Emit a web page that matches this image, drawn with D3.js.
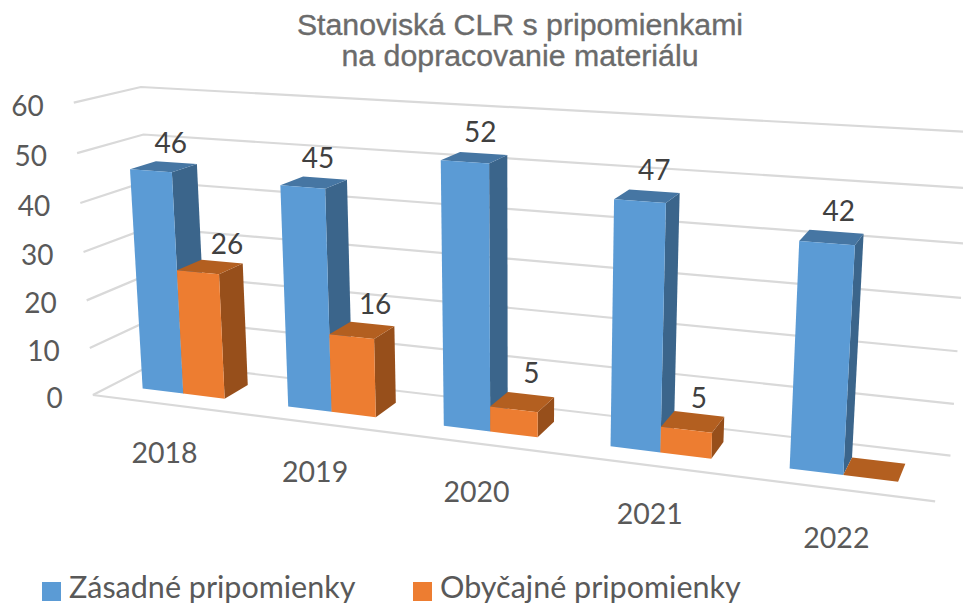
<!DOCTYPE html>
<html>
<head>
<meta charset="utf-8">
<script src="https://cdn.jsdelivr.net/npm/d3@7"></script>
<style>
html,body{margin:0;padding:0;background:#fff;overflow:hidden}
svg{display:block}
</style>
</head>
<body>
<svg id="chart" width="963" height="605"></svg>
<script>
// ---- data ----
const categories = ["2018", "2019", "2020", "2021", "2022"];
const seriesNames = ["Zásadné pripomienky", "Obyčajné pripomienky"];
const zasadne = [46, 45, 52, 47, 42];
const obycajne = [26, 16, 5, 5, 0];
const valueTicks = [0, 10, 20, 30, 40, 50, 60];
const titleLines = ["Stanoviská CLR s pripomienkami", "na dopracovanie materiálu"];

// ---- styles ----
const faceColors = [
  {front: "#5B9BD5", side: "#3B658B", top: "#4676A3"},
  {front: "#ED7D31", side: "#974F1B", top: "#B35F20"}
];

// ---- 3D scales (category, value, depth) -> unit cube ----
const W = 963, H = 605;
const band = d3.scaleBand().domain(categories).range([0, 5]).paddingInner(0.4286).paddingOuter(0.2143);
const inner = d3.scaleBand().domain(d3.range(2)).range([0, band.bandwidth()]);
const ux = d3.scaleLinear().domain([0, 5]).range([0, 1]);
const uy = d3.scaleLinear().domain([0, 60]).range([0, 1]);
const depth = {front: 0.3, back: 0.7};

// ---- camera calibration: [u, value, depth, screenX, screenY] ----
const eL = (i, k) => i + 0.2143 + k * 0.2857;
const calibration = [
  [0,0,0,93,395],[0,10,0,90,348],[0,20,0,87,301],[0,30,0,83,252],[0,40,0,79,203],[0,50,0,76,153],[0,60,0,72,103],
  [0,0,1,150,364],[0,50,1,145,134],[0,60,1,142,87],
  [5,0,1,950,456],[5,10,1,954,403],[5,20,1,958,351],[5,30,1,962,298],
  [5,0,0,936,502],
  [eL(0,0),0,.3,144,388],[eL(0,0),46,.3,130,169],[eL(0,1),46,.3,172,172],[eL(0,0),46,.7,157,162],[eL(0,1),46,.7,197,164],
  [eL(0,1),0,.3,184,393],[eL(0,2),0,.3,226,398],[eL(0,1),26,.3,178,270],[eL(0,2),26,.3,220,276],[eL(0,2),26,.7,244,263],[eL(0,1),26,.7,202,260],[eL(0,2),0,.7,249,384],
  [eL(2,0),52,.3,440,161],[eL(2,1),52,.3,488,163],[eL(2,1),52,.7,507,155],[eL(2,0),52,.7,460,152],
  [eL(2,0),0,.3,444,426],[eL(2,1),0,.3,490,431],[eL(2,2),0,.3,538,437],[eL(2,2),0,.7,554,421],
  [eL(2,1),5,.3,490,407],[eL(2,2),5,.3,538,412],[eL(2,2),5,.7,554,397],[eL(2,1),5,.7,508,392],
  [eL(3,1),47,.3,666,202],[eL(3,1),47,.7,679,193],
  [eL(3,0),0,.3,610,447],[eL(3,1),0,.3,660,452],[eL(3,2),0,.3,712,458],
  [eL(3,1),5,.3,661,427],[eL(3,2),5,.3,712,433],[eL(3,2),5,.7,723,417],[eL(3,1),5,.7,675,411],
  [eL(4,0),42,.3,799,241],[eL(4,1),42,.3,855,245],[eL(4,1),42,.7,863,234],[eL(4,0),42,.7,810,230],
  [eL(4,0),0,.3,789,469],[eL(4,1),0,.3,843,475],[eL(4,2),0,.3,898,482],[eL(4,2),0,.7,904,464],[eL(4,1),0,.7,853,458]
];

function solveCamera(points) {
  const n = 11, A = d3.range(n).map(() => new Array(n + 1).fill(0));
  const add = (row, b) => {
    for (let i = 0; i < n; i++) {
      for (let j = 0; j < n; j++) A[i][j] += row[i] * row[j];
      A[i][n] += row[i] * b;
    }
  };
  points.forEach(([u, v, w, sx, sy]) => {
    const X = ux(u), Y = uy(v), Z = w, x = sx / 1000, y = sy / 1000;
    add([X, Y, Z, 1, 0, 0, 0, 0, -x * X, -x * Y, -x * Z], x);
    add([0, 0, 0, 0, X, Y, Z, 1, -y * X, -y * Y, -y * Z], y);
  });
  for (let c = 0; c < n; c++) {
    let p = c;
    for (let r = c + 1; r < n; r++) if (Math.abs(A[r][c]) > Math.abs(A[p][c])) p = r;
    [A[c], A[p]] = [A[p], A[c]];
    for (let r = 0; r < n; r++) {
      if (r === c) continue;
      const f = A[r][c] / A[c][c];
      for (let k = c; k <= n; k++) A[r][k] -= f * A[c][k];
    }
  }
  return A.map((row, i) => row[n] / row[i]);
}
const cam = solveCamera(calibration);
function project(u, v, w) {
  const X = ux(u), Y = uy(v), Z = w;
  const d = cam[8] * X + cam[9] * Y + cam[10] * Z + 1;
  return [
    1000 * (cam[0] * X + cam[1] * Y + cam[2] * Z + cam[3]) / d,
    1000 * (cam[4] * X + cam[5] * Y + cam[6] * Z + cam[7]) / d
  ];
}

const svg = d3.select("#chart");
const line = d3.line();
const bodyFont = "Lato, Carlito, sans-serif";

// ---- gridlines ----
const grid = svg.append("g").attr("fill", "none").attr("stroke", "#D9D9D9").attr("stroke-width", 2.2);
grid.selectAll("path.grid").data(valueTicks).join("path").attr("class", "grid")
  .attr("d", v => line([project(0, v, 0), project(0, v, 1), project(5, v, 1)]));
grid.append("path").attr("d", line([project(0, 0, 0), project(5, 0, 0)]));

// ---- value axis labels ----
svg.append("g").selectAll("text").data(valueTicks).join("text")
  .attr("x", v => project(0, v, 0)[0] - 30)
  .attr("y", v => project(0, v, 0)[1] + 13)
  .attr("text-anchor", "end").attr("font-family", bodyFont).attr("font-size", 28).attr("fill", "#595959")
  .text(d => d);

// ---- category labels ----
svg.append("g").selectAll("text").data(categories).join("text")
  .attr("x", c => project(band(c) + band.bandwidth() / 2, 0, 0)[0])
  .attr("y", c => project(band(c) + band.bandwidth() / 2, 0, 0)[1] + 59)
  .attr("text-anchor", "middle").attr("font-family", bodyFont).attr("font-size", 28.5).attr("fill", "#595959")
  .text(d => d);

// ---- bars ----
const seriesValues = [zasadne, obycajne];
const bars = svg.append("g");
categories.forEach((c, i) => {
  seriesValues.forEach((vals, s) => {
    const a = band(c) + inner(s), b = a + inner.bandwidth(), v = vals[i];
    const w0 = depth.front, w1 = depth.back;
    const col = faceColors[s];
    const g = bars.append("g");
    g.append("path").attr("fill", col.side)
      .attr("d", line([project(b, 0, w0), project(b, v, w0), project(b, v, w1), project(b, 0, w1)]) + "Z");
    g.append("path").attr("fill", col.top)
      .attr("d", line([project(a, v, w0), project(b, v, w0), project(b, v, w1), project(a, v, w1)]) + "Z");
    g.append("path").attr("fill", col.front)
      .attr("d", line([project(a, 0, w0), project(b, 0, w0), project(b, v, w0), project(a, v, w0)]) + "Z");
  });
});

// ---- data labels ----
const labelNudgeX = [[0, -3, -1, 0, 0], [10, 6, 2, -1, 0]];
const labelNudgeY = [[1, 0, -1, -1, -1], [2, -1, -4, 1, 0]];
const labels = svg.append("g");
categories.forEach((c, i) => {
  seriesValues.forEach((vals, s) => {
    const v = vals[i];
    if (!v) return;
    const m = band(c) + inner(s) + inner.bandwidth() / 2;
    const p = project(m, v, 0.5);
    labels.append("text")
      .attr("x", p[0] + 7 + labelNudgeX[s][i])
      .attr("y", p[1] - 15 + labelNudgeY[s][i])
      .attr("text-anchor", "middle").attr("font-family", bodyFont).attr("font-size", 28).attr("fill", "#404040")
      .text(v);
  });
});

// ---- title ----
svg.append("g").selectAll("text").data(titleLines).join("text")
  .attr("x", 520).attr("y", (d, i) => 35 + i * 31)
  .attr("text-anchor", "middle").attr("font-family", "'Liberation Sans', Arial, sans-serif")
  .attr("font-size", 30.3).attr("fill", "#6B6B6B").attr("stroke", "#6B6B6B").attr("stroke-width", 0.35)
  .text(d => d);

// ---- legend ----
const legendX = d3.scaleOrdinal().domain(seriesNames).range([42, 413]);
const legend = svg.append("g").selectAll("g").data(seriesNames).join("g")
  .attr("transform", d => `translate(${legendX(d)},582)`);
legend.append("rect").attr("width", 19).attr("height", 19).attr("fill", (d, i) => faceColors[i].front);
legend.append("text").attr("x", 27).attr("y", 16)
  .attr("font-family", bodyFont).attr("font-size", 30.5).attr("fill", "#595959")
  .text(d => d);
</script>
</body>
</html>
